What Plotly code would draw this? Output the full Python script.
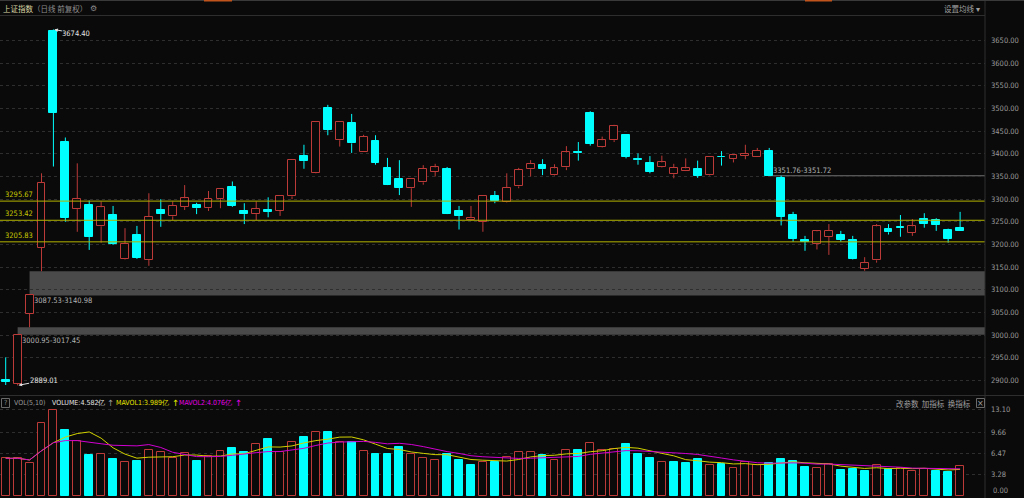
import pandas as pd
import plotly.graph_objects as go

# ---------------- data ----------------
opens = [2901, 2893, 3047, 3193, 3672, 3427, 3278, 3287, 3240, 3265,
         3169, 3220, 3166, 3275, 3262, 3283, 3287, 3280, 3300, 3327,
         3274, 3267, 3275, 3274, 3306, 3395, 3358, 3502, 3430, 3469,
         3405, 3428, 3369, 3344, 3324, 3337, 3361, 3367, 3274, 3254,
         3250, 3307, 3293, 3328, 3366, 3375, 3353, 3370, 3403, 3489,
         3414, 3430, 3441, 3389, 3380, 3370, 3355, 3363, 3367, 3353,
         3394, 3388, 3396, 3394, 3407, 3347, 3266, 3210, 3202, 3217,
         3220, 3211, 3147, 3165, 3234, 3239, 3226, 3256, 3255, 3233, 3237]
highs = [2951, 3000.95, 3087.53, 3357, 3674.40, 3436, 3379, 3297, 3295, 3285,
         3236, 3241, 3313, 3300, 3295, 3331, 3292, 3318, 3322, 3339,
         3291, 3295, 3304, 3309, 3386, 3420, 3471, 3508, 3470, 3488,
         3442, 3441, 3391, 3386, 3346, 3375, 3378, 3371, 3285, 3285,
         3309, 3318, 3357, 3369, 3386, 3388, 3377, 3417, 3426, 3494,
         3438, 3464, 3442, 3401, 3395, 3396, 3378, 3390, 3385, 3394,
         3406, 3398, 3420, 3413, 3413, 3351.72, 3272, 3219, 3231, 3245,
         3230, 3219, 3172, 3245, 3245, 3265, 3256, 3269, 3258, 3235, 3272]
lows = [2890, 2889.01, 3017.45, 3140.98, 3372, 3250, 3228, 3188, 3204, 3199,
        3167, 3168, 3153, 3239, 3254, 3276, 3267, 3274, 3280, 3283,
        3245, 3254, 3260, 3263, 3300, 3367, 3357, 3441, 3416, 3402,
        3404, 3376, 3331, 3309, 3283, 3332, 3350, 3267, 3233, 3253,
        3228, 3291, 3292, 3324, 3350, 3353, 3352, 3364, 3385, 3418,
        3413, 3426, 3390, 3376, 3357, 3369, 3346, 3362, 3347, 3352,
        3374, 3381, 3388, 3394, 3351.76, 3242, 3206, 3186, 3189, 3177,
        3206, 3167, 3142, 3160, 3222, 3217, 3219, 3237, 3230, 3204, 3230]
closes = [2897, 3000.95, 3087.53, 3336, 3490, 3259, 3300, 3217, 3282, 3201,
          3202, 3170, 3261, 3268, 3286, 3302, 3280, 3300, 3322, 3286,
          3267, 3279, 3272, 3308, 3386, 3384, 3470, 3453, 3470, 3423,
          3438, 3380, 3332, 3325, 3345, 3367, 3370, 3268, 3263, 3258,
          3308, 3295, 3325, 3364, 3378, 3366, 3368, 3403, 3401, 3422,
          3430, 3461, 3393, 3386, 3361, 3381, 3369, 3368, 3352, 3393,
          3392, 3397, 3400, 3407, 3352, 3261, 3212, 3206, 3229, 3230,
          3211, 3168, 3159, 3240, 3227, 3236, 3240, 3245, 3244, 3213, 3230.5]
volumes = [5.69, 5.69, 4.92, 11.04, 13.03, 9.97, 8.38, 6.15, 6.30, 5.63,
           5.17, 5.28, 6.91, 6.60, 5.69, 6.45, 5.28, 5.99, 6.76, 7.26,
           6.65, 7.87, 8.59, 6.65, 8.13, 8.94, 9.66, 9.66, 8.23, 8.23,
           6.76, 6.35, 6.35, 7.47, 6.35, 5.69, 5.38, 6.30, 5.43, 4.71,
           5.17, 5.17, 5.84, 6.65, 6.65, 6.19, 5.43, 6.91, 6.96, 7.98,
           6.96, 7.06, 7.83, 6.35, 5.79, 5.17, 5.17, 4.92, 5.53, 4.71,
           4.76, 4.20, 5.17, 4.71, 5.02, 5.63, 5.23, 4.41, 4.15, 4.76,
           3.90, 4.115, 3.75, 4.70, 4.10, 4.15, 3.82, 4.07, 3.82, 3.655, 4.582]
price_ticks = [2900, 2950, 3000, 3050, 3100, 3150, 3200, 3250, 3300, 3350,
               3400, 3450, 3500, 3550, 3600, 3650]
vol_ticks = [0.00, 3.28, 6.47, 9.66, 13.10]
support_levels = [3295.67, 3253.42, 3205.83]

# ---------------- styling / geometry ----------------
W, H = 1024, 498
BG = "#0a0a0a"
RED = "#bc3a38"
CYAN = "#00ffff"
GRID = "#2e2e2e"
SEP = "#2e2e2e"
AXTXT = "#9a9a9a"
NARROW = "Liberation Sans Narrow, Arial Narrow, DejaVu Sans Condensed, Liberation Sans, sans-serif"
CJK = "Noto Sans CJK SC, sans-serif"
FS = 7.5
PLOT_R = 985  # right edge of the plotting area (px)
X0, X1 = -0.478, 82.087
P0, P1 = 2867.95, 3704.05
V0, V1 = -0.382, 15.21


def fx(xp):
    return xp / W


def fy(yp):
    return 1 - yp / H


n = len(closes)
idx = list(range(n))
up = [c >= o for o, c in zip(opens, closes)]
vol_up = [True] + [closes[i] >= closes[i - 1] for i in range(1, n)]

fig = go.Figure()

# wicks (upper and lower segments so hollow bodies stay hollow)
for colour, want in ((RED, True), (CYAN, False)):
    xs, ys = [], []
    for i in idx:
        if up[i] != want:
            continue
        top, bot = max(opens[i], closes[i]), min(opens[i], closes[i])
        xs += [i, i, None, i, i, None]
        ys += [highs[i], top, None, bot, lows[i], None]
    fig.add_trace(go.Scatter(x=xs, y=ys, mode="lines", line=dict(color=colour, width=1),
                             hoverinfo="skip", showlegend=False, xaxis="x", yaxis="y"))

# candle bodies
for want in (True, False):
    sel = [i for i in idx if up[i] == want]
    base = [min(opens[i], closes[i]) for i in sel]
    height = [max(abs(closes[i] - opens[i]), 1.0) for i in sel]
    fig.add_trace(go.Bar(
        x=sel, y=height, base=base, width=0.66,
        marker=dict(color=BG if want else CYAN,
                    line=dict(color=RED if want else CYAN, width=1)),
        showlegend=False, hoverinfo="skip", xaxis="x", yaxis="y"))

# volume bars
for want in (True, False):
    sel = [i for i in idx if vol_up[i] == want]
    fig.add_trace(go.Bar(
        x=sel, y=[volumes[i] for i in sel], width=0.66,
        marker=dict(color=BG if want else CYAN,
                    line=dict(color=RED if want else CYAN, width=1)),
        showlegend=False, hoverinfo="skip", xaxis="x2", yaxis="y2"))

vs = pd.Series(volumes)
ma5 = vs.rolling(5, min_periods=1).mean()
ma10 = vs.rolling(10, min_periods=1).mean()
fig.add_trace(go.Scatter(x=idx, y=ma5, mode="lines", line=dict(color="#d2d200", width=1),
                         showlegend=False, hoverinfo="skip", xaxis="x2", yaxis="y2"))
fig.add_trace(go.Scatter(x=idx, y=ma10, mode="lines", line=dict(color="#d000d0", width=1),
                         showlegend=False, hoverinfo="skip", xaxis="x2", yaxis="y2"))

shapes = []
annotations = []

# unfilled price gaps
for i in range(n - 1):
    if lows[i + 1] > highs[i]:
        a, b = highs[i], lows[i + 1]
        later = min(lows[i + 1:])
        if later <= a:
            continue
        lo_z, hi_z = a, min(b, later)
        ypos, yanc = a, "top"
    elif highs[i + 1] < lows[i]:
        a, b = lows[i], highs[i + 1]
        later = max(highs[i + 1:])
        if later >= a:
            continue
        lo_z, hi_z = max(b, later), a
        ypos, yanc = a, "bottom"
    else:
        continue
    label = f"{a:.2f}-{b:.2f}"
    thin = (hi_z - lo_z) < 1
    shapes.append(dict(type="rect", xref="x", yref="y", x0=i, x1=X1, y0=lo_z, y1=hi_z,
                       fillcolor="#4a4a4a", line=dict(color="#5a5a5a", width=1 if thin else 0),
                       layer="below"))
    annotations.append(dict(x=i, y=ypos, xref="x", yref="y", text=label, showarrow=False,
                            xanchor="left", yanchor=yanc, xshift=3, borderpad=0,
                            font=dict(family=NARROW, size=FS, color="#b4b4b4")))

# support lines
for lv in support_levels:
    shapes.append(dict(type="line", xref="x", yref="y", x0=X0, x1=X1, y0=lv, y1=lv,
                       line=dict(color="#b4b400", width=1)))
    annotations.append(dict(x=fx(4), y=lv, xref="paper", yref="y", text=f"{lv:.2f}",
                            showarrow=False, xanchor="left", yanchor="bottom", yshift=1,
                            borderpad=0, font=dict(family=NARROW, size=FS, color="#c8c800")))

# max / min markers
imax = max(idx, key=lambda i: highs[i])
imin = min(idx, key=lambda i: lows[i])
annotations.append(dict(x=imax, y=highs[imax], xref="x", yref="y", text=f"{highs[imax]:.2f}",
                        showarrow=True, ax=23, ay=4, arrowhead=2, arrowsize=0.7, arrowwidth=1,
                        arrowcolor="#e0e0e0", standoff=1, borderpad=0,
                        font=dict(family=NARROW, size=FS, color="#e6e6e6")))
annotations.append(dict(x=imin, y=lows[imin], xref="x", yref="y", text=f"{lows[imin]:.2f}",
                        showarrow=True, ax=26, ay=-5, arrowhead=2, arrowsize=0.7, arrowwidth=1,
                        arrowcolor="#e0e0e0", standoff=1, borderpad=0,
                        font=dict(family=NARROW, size=FS, color="#e6e6e6")))

# frame lines
shapes += [
    dict(type="line", xref="paper", yref="paper", x0=fx(PLOT_R), x1=fx(PLOT_R), y0=0, y1=1,
         line=dict(color=SEP, width=1)),
    dict(type="line", xref="paper", yref="paper", x0=0, x1=fx(PLOT_R), y0=fy(15.5), y1=fy(15.5),
         line=dict(color=SEP, width=1)),
    dict(type="line", xref="paper", yref="paper", x0=0, x1=1, y0=fy(395.5), y1=fy(395.5),
         line=dict(color=SEP, width=1)),
    dict(type="line", xref="paper", yref="paper", x0=0, x1=1, y0=fy(0.5), y1=fy(0.5),
         line=dict(color="#3a3a3a", width=1)),
    dict(type="line", xref="paper", yref="paper", x0=fx(204), x1=fx(232), y0=fy(0.5), y1=fy(0.5),
         line=dict(color="#c0541c", width=2)),
    dict(type="line", xref="paper", yref="paper", x0=fx(805), x1=fx(832), y0=fy(0.5), y1=fy(0.5),
         line=dict(color="#c0541c", width=2)),
    dict(type="rect", xref="paper", yref="paper", x0=fx(1.5), x1=fx(9.5), y0=fy(407.5), y1=fy(398.5),
         line=dict(color="#6a6a6a", width=1)),
    dict(type="rect", xref="paper", yref="paper", x0=fx(976.5), x1=fx(984.5), y0=fy(407.5), y1=fy(398.5),
         line=dict(color="#6a6a6a", width=1)),
]


def txt(xp, yp, text, color, family=NARROW, size=FS, anchor="left"):
    annotations.append(dict(x=fx(xp), y=fy(yp), xref="paper", yref="paper", text=text,
                            showarrow=False, xanchor=anchor, yanchor="middle", borderpad=0,
                            font=dict(family=family, size=size, color=color)))


# header
txt(2, 8.5, "上证指数", "#ddd6a6", CJK, 7.5)
txt(32, 8.5, "（日线 前复权）", "#8c8c8c", CJK, 7.5)
txt(89, 8.5, "⚙", "#8c8c8c", "DejaVu Sans", 8)
txt(981, 8.5, "设置均线 ▾", "#a0a0a0", CJK, 7.5, "right")

# volume header
txt(5.5, 403, "?", "#8c8c8c", NARROW, 7, "center")
txt(13, 403, "VOL(5,10)", "#9a9a9a", NARROW, 7)
txt(51, 403, f"VOLUME:{volumes[-1]:.3f}亿", "#e6e6e6", NARROW, 7)
txt(106, 403, "↑", "#9a9a9a", "DejaVu Sans", 8.5)
txt(115, 403, f"MAVOL1:{ma5.iloc[-1]:.3f}亿", "#e6e600", NARROW, 7)
txt(171, 403, "↑", "#e6e600", "DejaVu Sans", 8.5)
txt(178, 403, f"MAVOL2:{ma10.iloc[-1]:.3f}亿", "#e600e6", NARROW, 7)
txt(234, 403, "↑", "#e600e6", "DejaVu Sans", 8.5)
txt(972, 403, "改参数  加指标  换指标", "#a0a0a0", CJK, 7.5, "right")
txt(980.5, 403, "×", "#a0a0a0", "DejaVu Sans", 8, "center")
txt(992, 490, f"{vol_ticks[0]:.2f}", AXTXT)

fig.update_layout(
    width=W, height=H, margin=dict(l=0, r=0, t=0, b=0),
    paper_bgcolor=BG, plot_bgcolor=BG, barmode="overlay", bargap=0,
    showlegend=False, shapes=shapes, annotations=annotations,
    xaxis=dict(domain=[0, fx(PLOT_R)], range=[X0, X1], anchor="y", visible=False, fixedrange=True),
    xaxis2=dict(domain=[0, fx(PLOT_R)], range=[X0, X1], anchor="y2", visible=False,
                matches="x", fixedrange=True),
    yaxis=dict(domain=[fy(395), fy(16)], range=[P0, P1], side="right", anchor="x",
               tickvals=price_ticks, ticktext=[f"{v:.2f}" for v in price_ticks],
               showgrid=True, gridcolor=GRID, griddash="dot", gridwidth=1, zeroline=False,
               ticks="", ticklabelstandoff=5, tickfont=dict(family=NARROW, size=FS, color=AXTXT),
               fixedrange=True),
    yaxis2=dict(domain=[0, fy(396)], range=[V0, V1], side="right", anchor="x2",
                tickvals=vol_ticks[1:], ticktext=[f"{v:.2f}" for v in vol_ticks[1:]],
                showgrid=True, gridcolor=GRID, griddash="dot", gridwidth=1, zeroline=False,
                ticks="", ticklabelstandoff=5, tickfont=dict(family=NARROW, size=FS, color=AXTXT),
                fixedrange=True),
)

fig.write_html("out.html", config={"displayModeBar": False},
               post_script="document.body.style.margin='0';document.body.style.background='#0a0a0a';")
